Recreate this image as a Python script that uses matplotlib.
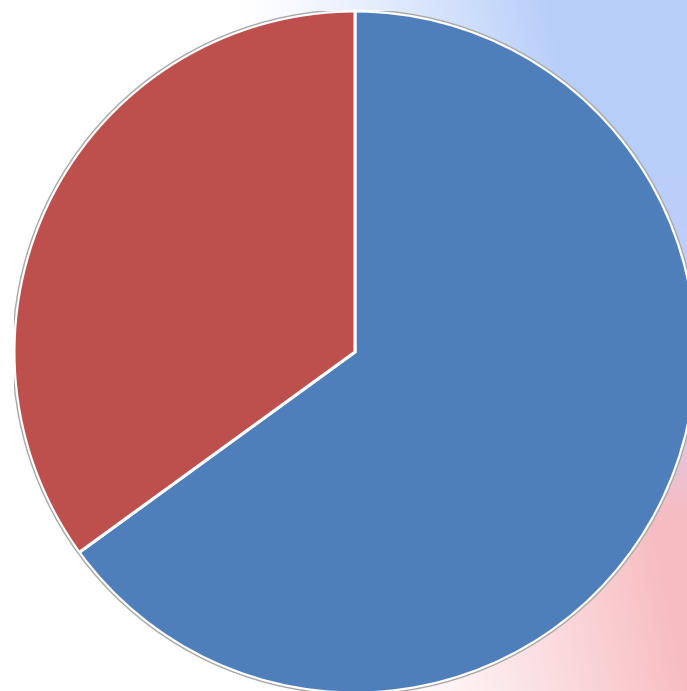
import numpy as np
import matplotlib.pyplot as plt
from matplotlib.patches import Circle

# Slice data (clockwise from 12 o'clock)
labels = ["Blue", "Red"]
shares = [65, 35]
colors = ["#4F7FBB", "#BD504D"]

W, H = 687, 691
CX, CY, R = 355, 339, 341  # pixel centre (from bottom-left) and radius


def draw_background(fig):
    bg = fig.add_axes([0, 0, 1, 1], zorder=0)
    bg.set_axis_off()
    xs = np.linspace(0, 1, W)
    ys = np.linspace(0, 1, H)
    xx, yy = np.meshgrid(xs, ys)
    img = np.ones((H, W, 3))
    # fade in from the left side, earlier near the top
    t = np.clip((xx - 0.55 + 0.2 * yy) / 0.45, 0, 1) ** 1.2
    blue = np.array([0.72, 0.81, 0.98])
    lav = np.array([0.80, 0.80, 0.97])
    pink = np.array([0.97, 0.74, 0.76])
    mix = np.clip((yy - 0.25) / 0.5, 0, 1)[..., None]  # 0 bottom -> 1 top
    tint = np.where(mix > 0.5, (mix - 0.5) * 2 * blue + (1 - (mix - 0.5) * 2) * lav,
                    mix * 2 * lav + (1 - mix * 2) * pink)
    img = (1 - t[..., None]) * img + t[..., None] * tint
    bg.imshow(img, origin="lower", extent=[0, 1, 0, 1], aspect="auto")
    bg.set_xlim(0, 1)
    bg.set_ylim(0, 1)


def main() -> None:
    fig = plt.figure(figsize=(W / 100, H / 100), dpi=100)
    draw_background(fig)

    ax = fig.add_axes([(CX - R) / W, (CY - R) / H, 2 * R / W, 2 * R / H], zorder=1)
    ax.pie(shares, colors=colors, startangle=90, counterclock=False, radius=1.0,
           wedgeprops=dict(edgecolor="white", linewidth=2.2))
    ax.add_patch(Circle((0, 0), 1.004, fill=False, edgecolor="#A8A8A8", linewidth=1.0))
    ax.set_xlim(-1, 1)
    ax.set_ylim(-1, 1)
    ax.set_aspect("equal")
    ax.set_axis_off()

    fig.savefig("out.png", dpi=100)
    plt.close(fig)


if __name__ == "__main__":
    main()
